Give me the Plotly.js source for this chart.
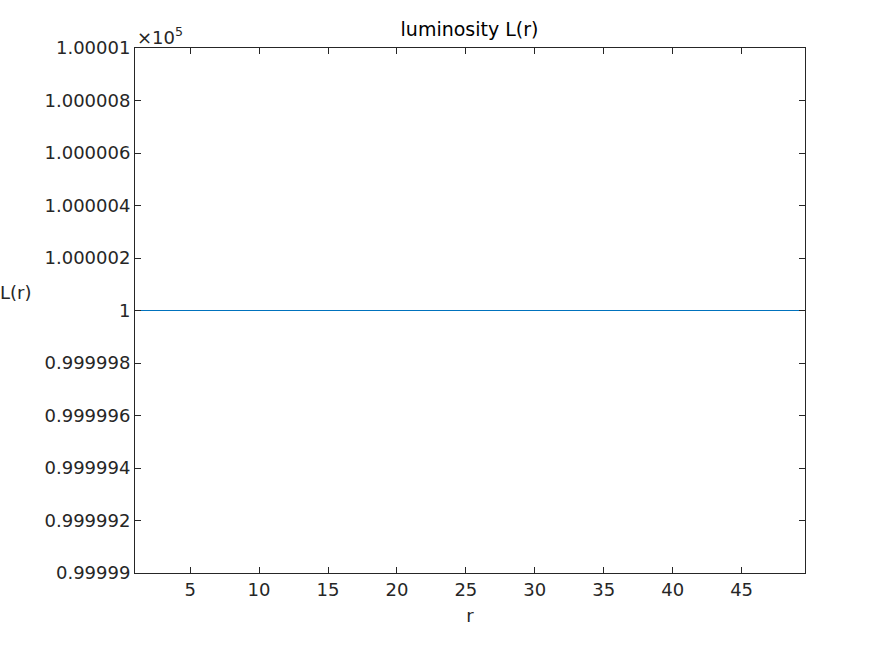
<!DOCTYPE html>
<html>
<head>
<meta charset="utf-8">
<script src="https://cdn.plot.ly/plotly-3.0.1.min.js"></script>
<style>body{margin:0;background:#fff}</style>
</head>
<body>
<div id="chart" style="width:891px;height:645px"></div>
<script>
// radius samples and luminosity (constant at 1e5)
var r = [1, 5, 9, 13, 17, 21, 25, 29, 33, 37, 41, 45, 49.6];
var L = [100000, 100000, 100000, 100000, 100000, 100000, 100000, 100000, 100000, 100000, 100000, 100000, 100000];
var xTicks = [5, 10, 15, 20, 25, 30, 35, 40, 45];
var yTickVals = [99999, 99999.2, 99999.4, 99999.6, 99999.8, 100000, 100000.2, 100000.4, 100000.6, 100000.8, 100001];
var yTickText = ['0.99999', '0.999992', '0.999994', '0.999996', '0.999998', '1', '1.000002', '1.000004', '1.000006', '1.000008', '1.00001'];

var font = {family: 'DejaVu Sans, sans-serif', size: 18, color: '#262626'};
var axisCommon = {
  showgrid: false, zeroline: false, showline: true, mirror: 'ticks',
  linecolor: '#262626', linewidth: 1, ticks: 'inside', ticklen: 6,
  tickcolor: '#262626', tickfont: font
};

Plotly.newPlot('chart', [{
  x: r, y: L, type: 'scatter', mode: 'lines',
  line: {color: '#0072BD', width: 1}
}], {
  width: 891, height: 645,
  margin: {l: 135, r: 86, t: 48, b: 72},
  paper_bgcolor: '#fff', plot_bgcolor: '#fff',
  showlegend: false,
  title: {text: 'luminosity L(r)', font: {family: 'DejaVu Sans, sans-serif', size: 19, color: '#000'}, x: 0.527, xanchor: 'center', y: 0.965, yanchor: 'top'},
  xaxis: Object.assign({}, axisCommon, {
    range: [1, 49.6], tickvals: xTicks,
    title: {text: 'r', font: font, standoff: 10}
  }),
  yaxis: Object.assign({}, axisCommon, {
    range: [99999, 100001], tickvals: yTickVals, ticktext: yTickText
  }),
  annotations: [
    {text: 'L(r)', xref: 'paper', yref: 'paper', x: -0.205, y: 0.535, showarrow: false, font: font, xanchor: 'left'},
    {text: '×10<sup>5</sup>', xref: 'paper', yref: 'paper', x: 0, y: 1.0, showarrow: false, font: font, xanchor: 'left', yanchor: 'bottom', yshift: -2}
  ]
}, {displayModeBar: false});
</script>
</body>
</html>
